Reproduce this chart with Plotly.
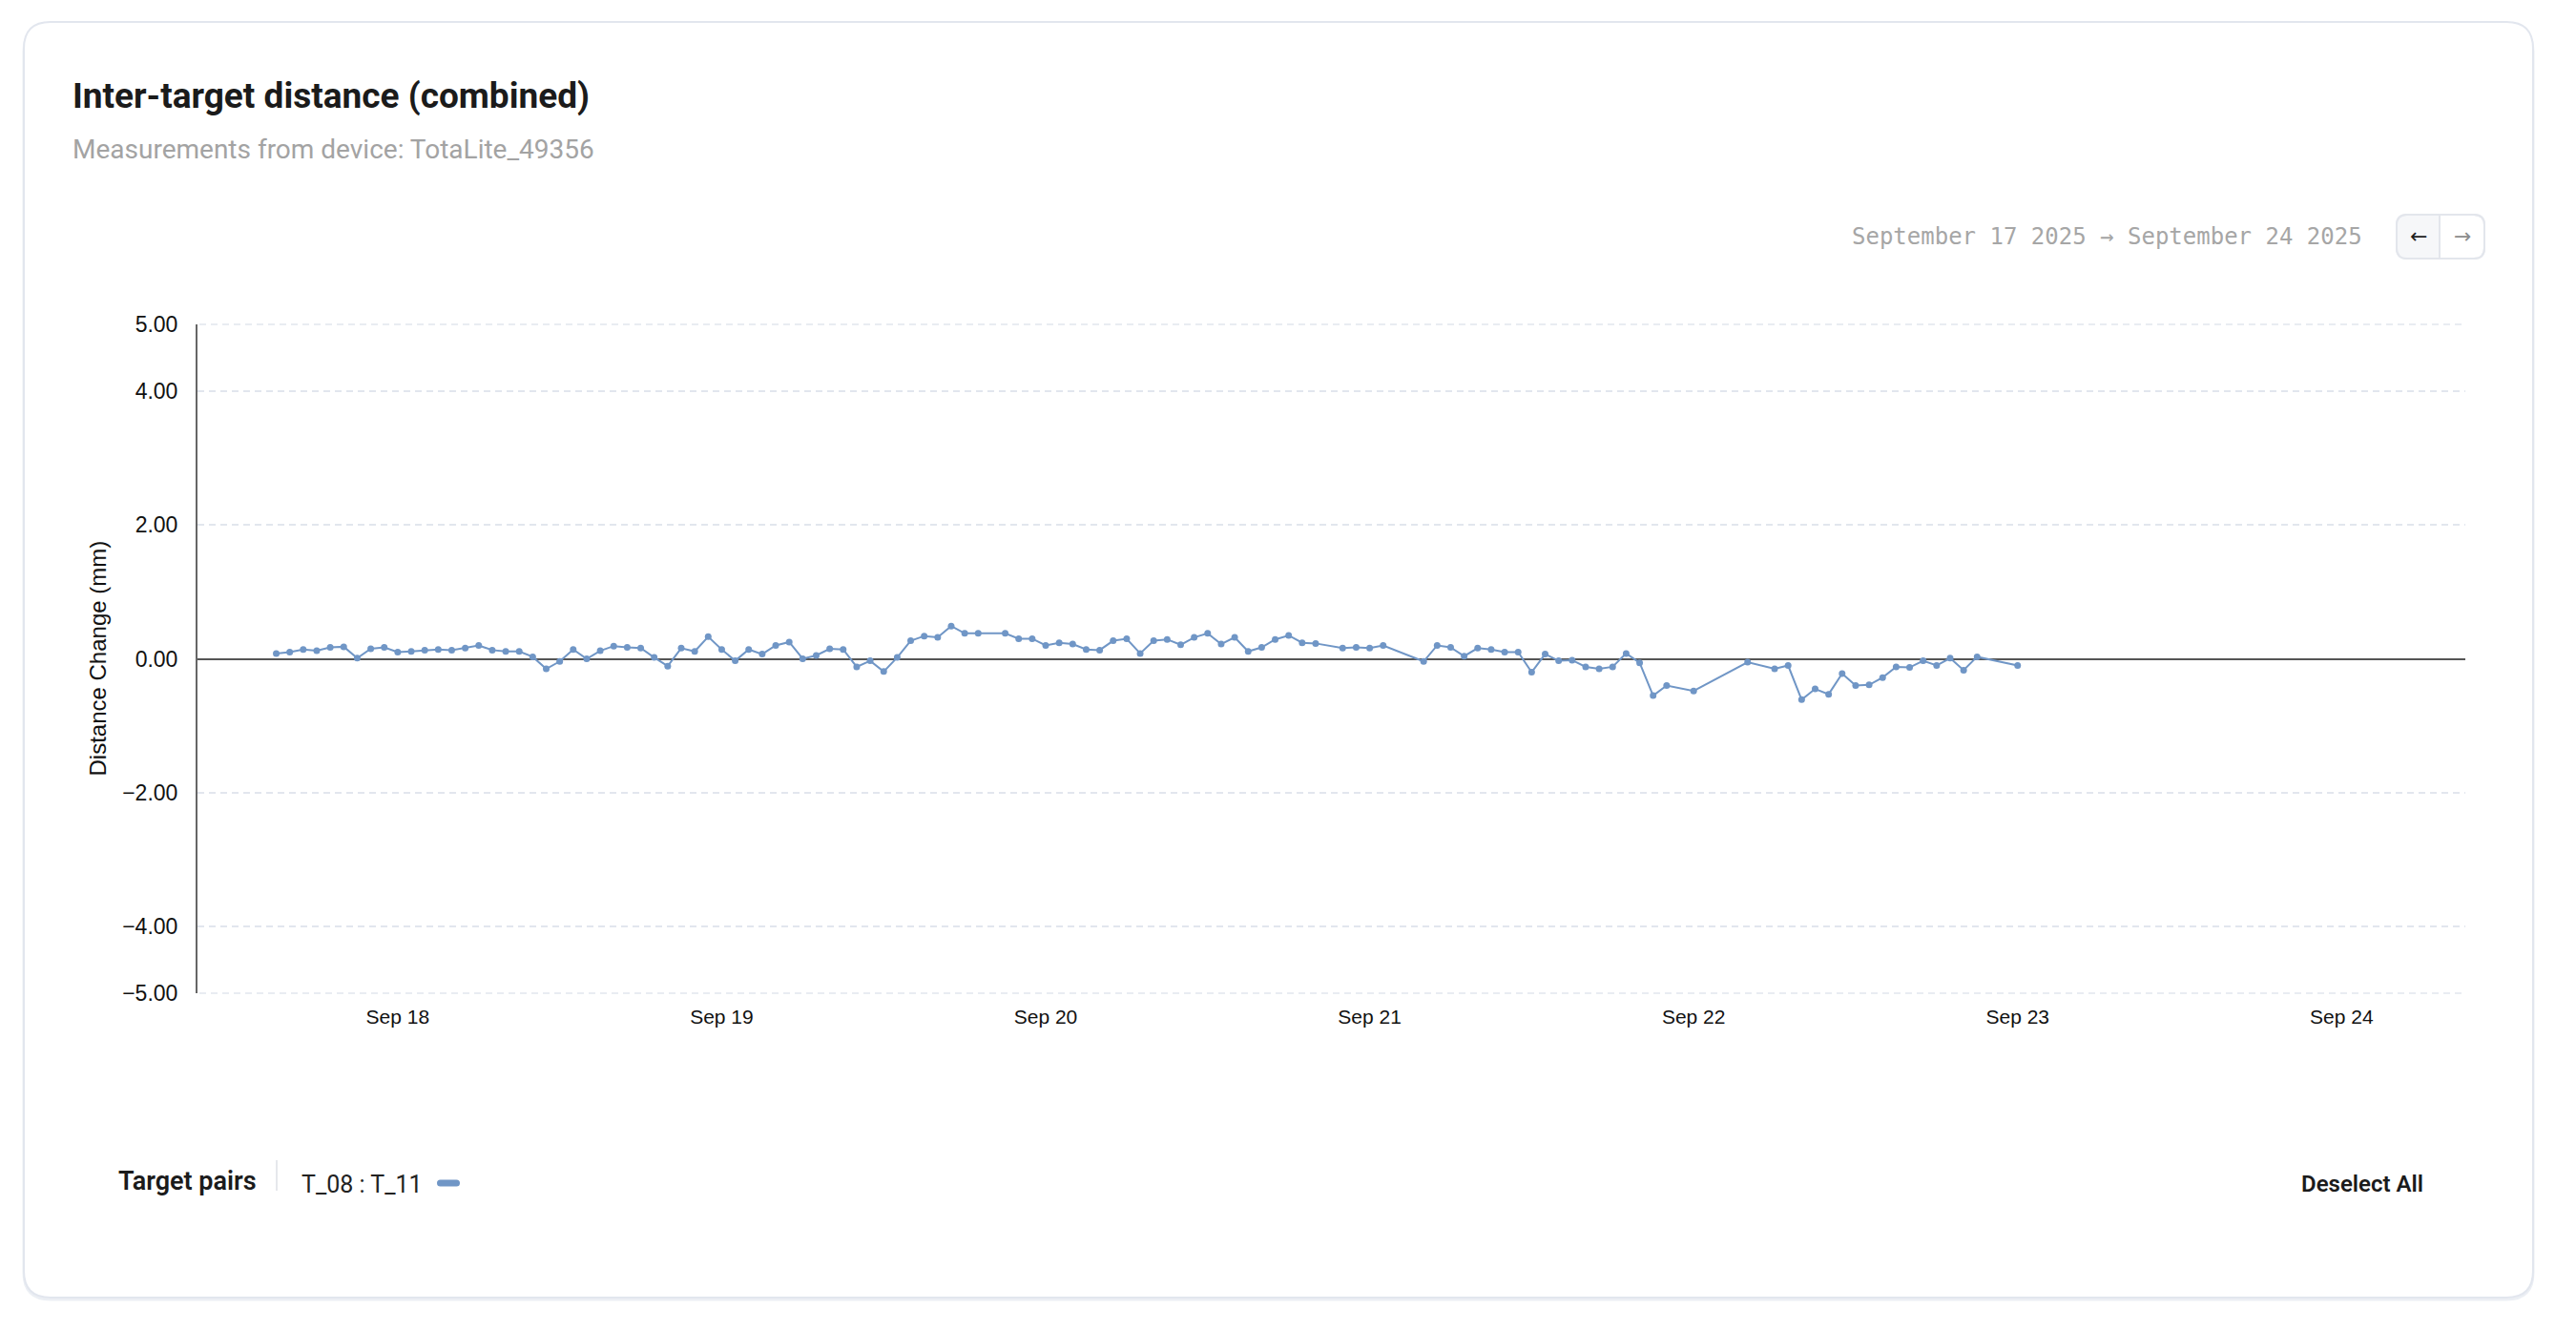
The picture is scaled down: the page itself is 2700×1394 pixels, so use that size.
import plotly.graph_objects as go

# ---------------- data ----------------
day_labels = ["2025-09-17", "2025-09-18", "2025-09-19", "2025-09-20",
              "2025-09-21", "2025-09-22", "2025-09-23"]
day_hours = [
    [15, 16, 17, 18, 19, 20, 21, 22, 23],
    [0, 1, 2, 3, 4, 5, 6, 7, 8, 9, 10, 11, 12, 13, 14, 15, 16, 17, 18, 19, 20, 21, 22, 23],
    [0, 1, 2, 3, 4, 5, 6, 7, 8, 9, 10, 11, 12, 13, 14, 15, 16, 17, 18, 19, 21, 22, 23],
    [0, 1, 2, 3, 4, 5, 6, 7, 8, 9, 10, 11, 12, 13, 14, 15, 16, 17, 18, 19, 20, 22, 23],
    [0, 1, 4, 5, 6, 7, 8, 9, 10, 11, 12, 13, 14, 15, 16, 17, 18, 19, 20, 21, 22],
    [0, 4, 6, 7, 8, 9, 10, 11, 12, 13, 14, 15, 16, 17, 18, 19, 20, 21],
    [0],
]
day_values = [
    [0.08, 0.10, 0.14, 0.12, 0.17, 0.18, 0.01, 0.15, 0.17],
    [0.10, 0.11, 0.13, 0.14, 0.13, 0.16, 0.20, 0.13, 0.11, 0.11, 0.03, -0.15,
     -0.04, 0.14, 0.00, 0.12, 0.19, 0.17, 0.16, 0.02, -0.11, 0.16, 0.11, 0.33],
    [0.14, -0.03, 0.14, 0.07, 0.20, 0.25, 0.00, 0.05, 0.15, 0.14, -0.12, -0.03,
     -0.19, 0.02, 0.27, 0.34, 0.32, 0.49, 0.38, 0.38, 0.38, 0.30, 0.30],
    [0.20, 0.24, 0.22, 0.14, 0.13, 0.27, 0.30, 0.08, 0.27, 0.29, 0.21, 0.32,
     0.38, 0.22, 0.32, 0.11, 0.17, 0.29, 0.35, 0.24, 0.23, 0.16, 0.17],
    [0.16, 0.20, -0.04, 0.20, 0.17, 0.04, 0.16, 0.14, 0.10, 0.10, -0.20, 0.07,
     -0.03, -0.02, -0.12, -0.15, -0.12, 0.08, -0.06, -0.55, -0.40],
    [-0.48, -0.05, -0.15, -0.10, -0.61, -0.45, -0.53, -0.22, -0.40, -0.39, -0.28,
     -0.12, -0.13, -0.03, -0.10, 0.01, -0.17, 0.03],
    [-0.10],
]
series_name = "T_08 : T_11"
x_range = ["2025-09-17 09:10", "2025-09-24 09:10"]
x_tick_dates = ["2025-09-18", "2025-09-19", "2025-09-20", "2025-09-21",
                "2025-09-22", "2025-09-23", "2025-09-24"]
y_ticks = [5, 4, 2, 0, -2, -4, -5]
y_range = [-5, 5]
title_text = "Inter-target distance (combined)"
subtitle_text = "Measurements from device: TotaLite_49356"
range_text = "September 17 2025 \u2192 September 24 2025"
y_title = "Distance Change (mm)"
legend_title = "Target pairs"
deselect_text = "Deselect All"

times = []
values = []
for d, hrs, vals in zip(day_labels, day_hours, day_values):
    for h, v in zip(hrs, vals):
        times.append(f"{d} {h:02d}:00")
        values.append(v)

# ---------------- geometry (pixels) ----------------
W, H = 2700, 1394
PL, PR, PT, PB = 207, 2584, 340, 1041
SERIES_COLOR = "#7096c6"
GRID_COLOR = "#e2e6ee"
GRID_DASH = "7px,5px"


def px(x):
    return (x - PL) / (PR - PL)


def py(y):
    return (PB - y) / (PB - PT)


def rounded_path(x0, y0, x1, y1, r):
    pts = [
        ("M", [(x0 + r, y0)]),
        ("L", [(x1 - r, y0)]),
        ("Q", [(x1, y0), (x1, y0 + r)]),
        ("L", [(x1, y1 - r)]),
        ("Q", [(x1, y1), (x1 - r, y1)]),
        ("L", [(x0 + r, y1)]),
        ("Q", [(x0, y1), (x0, y1 - r)]),
        ("L", [(x0, y0 + r)]),
        ("Q", [(x0, y0), (x0 + r, y0)]),
    ]
    s = ""
    for cmd, ps in pts:
        s += cmd + " " + " ".join(f"{px(a):.6f},{py(b):.6f}" for a, b in ps) + " "
    return s + "Z"


fig = go.Figure()
fig.add_trace(go.Scatter(
    x=times, y=values, name=series_name, mode="lines+markers",
    line=dict(color=SERIES_COLOR, width=2),
    marker=dict(color=SERIES_COLOR, size=7),
    showlegend=False,
))

shapes = []
# card shadow + card
shapes.append(dict(type="path", xref="paper", yref="paper",
                   path=rounded_path(25, 26, 2655, 1362, 28),
                   line=dict(color="#eceff4", width=3), fillcolor="rgba(0,0,0,0)", layer="below"))
shapes.append(dict(type="path", xref="paper", yref="paper",
                   path=rounded_path(25, 23, 2655, 1360, 28),
                   line=dict(color="#e2e6ee", width=2), fillcolor="white", layer="below"))
# edge gridlines (at the range limits), drawn in paper space so they are not clipped
for yp in (0, 1):
    shapes.append(dict(type="line", xref="paper", yref="paper", x0=px(PL + 2), x1=1, y0=yp, y1=yp,
                       line=dict(color=GRID_COLOR, width=1.5, dash=GRID_DASH), layer="below"))
# nav buttons
shapes.append(dict(type="path", xref="paper", yref="paper",
                   path=rounded_path(2512, 225, 2604, 271, 11),
                   line=dict(color="#e5e8ee", width=2), fillcolor="white", layer="above"))
shapes.append(dict(type="path", xref="paper", yref="paper",
                   path=("M {:.6f},{:.6f} L {:.6f},{:.6f} L {:.6f},{:.6f} Q {:.6f},{:.6f} {:.6f},{:.6f} "
                         "L {:.6f},{:.6f} Q {:.6f},{:.6f} {:.6f},{:.6f} Z").format(
                       px(2557), py(226), px(2557), py(270), px(2523), py(270),
                       px(2513), py(270), px(2513), py(260), px(2513), py(236),
                       px(2513), py(226), px(2523), py(226)),
                   line=dict(width=0), fillcolor="#f6f7f9", layer="above"))
shapes.append(dict(type="path", xref="paper", yref="paper",
                   path=rounded_path(2512, 225, 2604, 271, 11),
                   line=dict(color="#e3e6ec", width=2), fillcolor="rgba(0,0,0,0)", layer="above"))
shapes.append(dict(type="line", xref="paper", yref="paper",
                   x0=px(2557), x1=px(2557), y0=py(226), y1=py(270),
                   line=dict(color="#e3e6ec", width=2)))
# legend separator and swatch
shapes.append(dict(type="line", xref="paper", yref="paper",
                   x0=px(290), x1=px(290), y0=py(1216), y1=py(1248),
                   line=dict(color="#e6e8ec", width=2)))
shapes.append(dict(type="path", xref="paper", yref="paper",
                   path=rounded_path(458, 1236.5, 482, 1243.5, 3.5),
                   line=dict(width=0), fillcolor=SERIES_COLOR))

annotations = [
    dict(text=title_text, x=px(74), y=py(100), xanchor="left", yanchor="middle",
         font=dict(family="Roboto", size=37, color="#1b1b1b", weight=700)),
    dict(text=subtitle_text, x=px(74), y=py(157), xanchor="left", yanchor="middle",
         font=dict(family="Roboto", size=28, color="#a3a3a3")),
    dict(text=range_text, x=px(2478), y=py(248), xanchor="right", yanchor="middle",
         font=dict(family="DejaVu Sans Mono", size=24, color="#a6a6a6")),
    dict(text="\u2190", x=px(2535), y=py(247), xanchor="center", yanchor="middle",
         font=dict(family="DejaVu Sans", size=22, color="#1e1e1e")),
    dict(text="\u2192", x=px(2581), y=py(247), xanchor="center", yanchor="middle",
         font=dict(family="DejaVu Sans", size=22, color="#8c8c8c")),
    dict(text=y_title, x=px(102), y=0.5, textangle=-90, xanchor="center", yanchor="middle",
         font=dict(family="Liberation Sans", size=24, color="#111111")),
    dict(text=legend_title, x=px(122), y=py(1238), xanchor="left", yanchor="middle",
         font=dict(family="Roboto", size=27, color="#1b1b1b", weight=600)),
    dict(text=series_name, x=px(314), y=py(1241), xanchor="left", yanchor="middle",
         font=dict(family="Roboto", size=25, color="#222222")),
    dict(text=deselect_text, x=px(2542), y=py(1241), xanchor="right", yanchor="middle",
         font=dict(family="Roboto", size=24, color="#1b1b1b", weight=600)),
]
for a in annotations:
    a.update(xref="paper", yref="paper", showarrow=False)

fig.update_layout(
    width=W, height=H,
    margin=dict(l=PL, r=W - PR, t=PT, b=H - PB, pad=0, autoexpand=False),
    paper_bgcolor="white", plot_bgcolor="rgba(0,0,0,0)",
    shapes=shapes, annotations=annotations,
    font=dict(family="Liberation Sans", size=22, color="#111111"),
    xaxis=dict(
        type="date", range=x_range, tickvals=x_tick_dates, tickformat="%b %d",
        showgrid=False, zeroline=False, showline=False, ticks="",
        ticklabelstandoff=10, automargin=False,
        tickfont=dict(family="Liberation Sans", size=21, color="#111111"),
    ),
    yaxis=dict(
        range=y_range, tickvals=y_ticks, tickformat=".2f",
        showgrid=True, gridcolor=GRID_COLOR, gridwidth=1.5, griddash=GRID_DASH,
        zeroline=True, zerolinecolor="#555555", zerolinewidth=2,
        showline=True, linecolor="#666666", linewidth=2, ticks="",
        ticklabelstandoff=14, automargin=False,
        tickfont=dict(family="Liberation Sans", size=23, color="#111111"),
    ),
)

fig.write_html("out.html", config={"displayModeBar": False},
               post_script="document.body.style.margin='0';document.body.style.overflow='hidden';")
